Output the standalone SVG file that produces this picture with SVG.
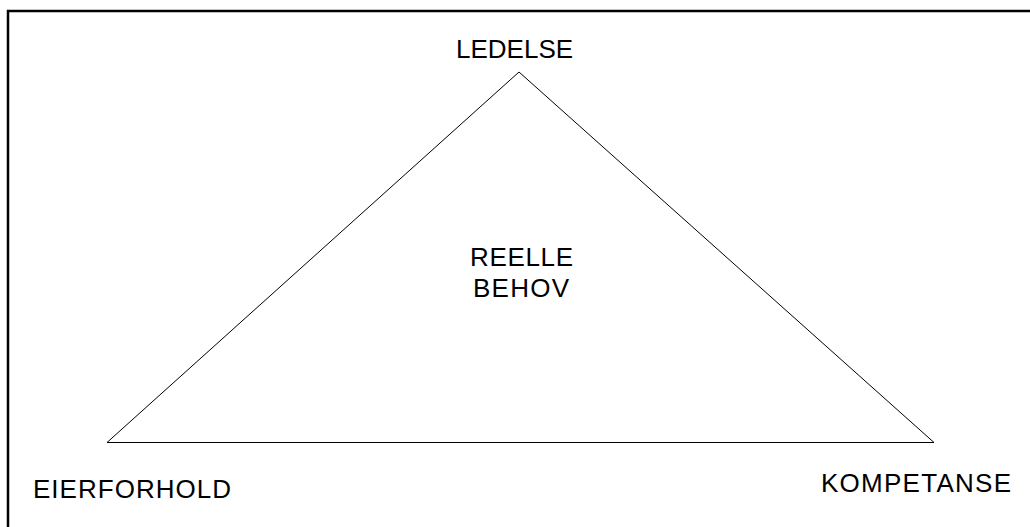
<svg xmlns="http://www.w3.org/2000/svg" width="1030" height="527" viewBox="0 0 1030 527">
<style>
.lbl{font-family:"Liberation Sans",Arial,sans-serif;font-size:26px;fill:#000}
.frame{fill:none;stroke:#000;stroke-width:2.5}
.tri{fill:none;stroke:#000;stroke-width:1}
</style>
<rect width="1030" height="527" fill="#fff"/>
<path class="frame" d="M8,527 V11 H1030"/>
<g id="connectors">
<polygon class="tri" points="519,72 107,442.5 934,442.5"/>
</g>
<g id="ledelse"><text class="lbl" x="456" y="58">LEDELSE</text></g>
<g id="reelle-behov">
<text class="lbl" x="470" y="266" textLength="103">REELLE</text>
<text class="lbl" x="473" y="297" textLength="96">BEHOV</text>
</g>
<g id="eierforhold"><text class="lbl" x="33" y="498" textLength="198">EIERFORHOLD</text></g>
<g id="kompetanse"><text class="lbl" x="821" y="492" textLength="190">KOMPETANSE</text></g>
</svg>
